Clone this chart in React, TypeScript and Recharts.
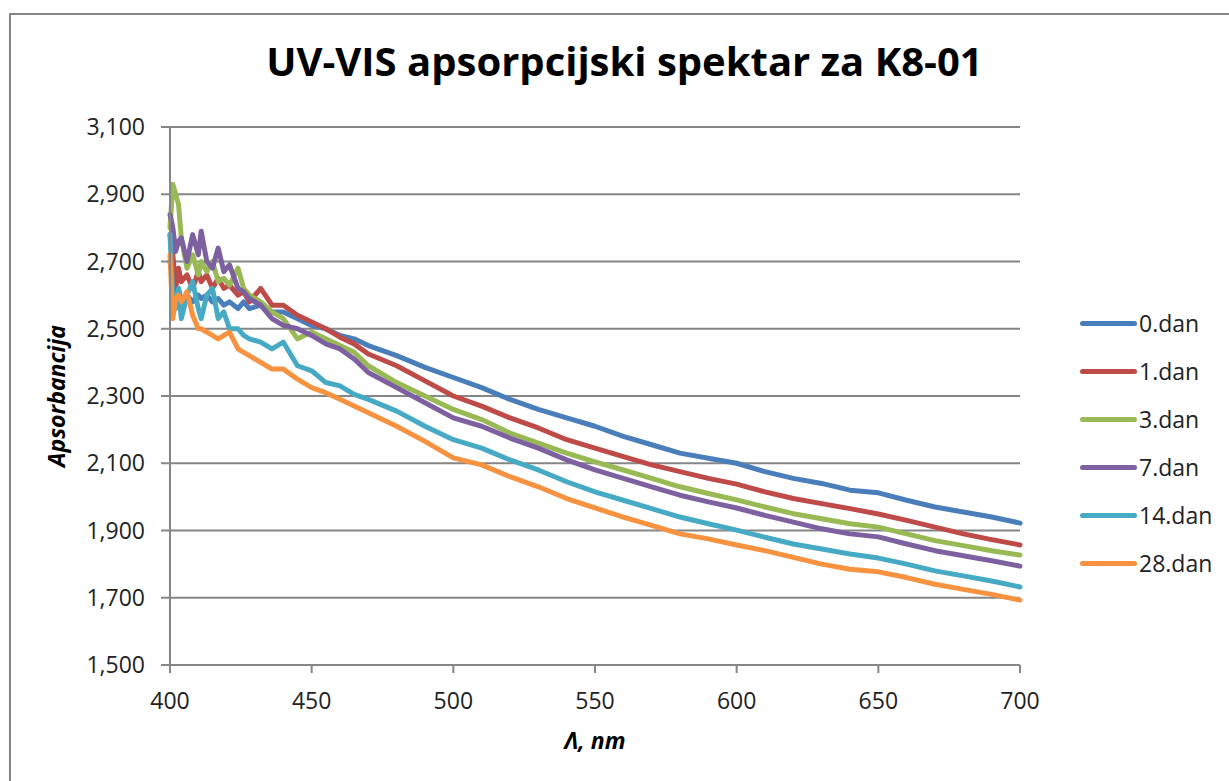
import { CartesianGrid, Legend, Line, LineChart, XAxis, YAxis, Label } from "recharts";

const wavelengths = [
    400, 401, 402, 403, 404, 406, 408, 410, 411, 413, 415, 417, 419, 421, 424, 426, 428, 432, 436, 440,
    445, 450, 455, 460, 465, 470, 480, 490, 500, 510, 520, 530, 540, 550, 560, 570, 580, 590, 600,
    610, 620, 630, 640, 650, 660, 670, 680, 690, 700,
];

const dan0 = [
    2.70, 2.65, 2.60, 2.62, 2.58, 2.60, 2.58, 2.60, 2.59, 2.60, 2.58, 2.59, 2.57, 2.58, 2.56, 2.58, 2.56, 2.57, 2.55, 2.55,
    2.53, 2.51, 2.50, 2.48, 2.47, 2.45, 2.42, 2.385, 2.355, 2.325, 2.29, 2.26, 2.235, 2.21, 2.18, 2.155, 2.13, 2.115, 2.10,
    2.075, 2.055, 2.04, 2.02, 2.012, 1.99, 1.97, 1.955, 1.94, 1.922,
];
const dan1 = [
    2.78, 2.72, 2.62, 2.68, 2.64, 2.66, 2.62, 2.67, 2.64, 2.66, 2.62, 2.65, 2.62, 2.63, 2.60, 2.61, 2.58, 2.62, 2.57, 2.57,
    2.54, 2.52, 2.50, 2.475, 2.455, 2.425, 2.39, 2.345, 2.30, 2.27, 2.235, 2.205, 2.17, 2.145, 2.12, 2.095, 2.075, 2.055, 2.038,
    2.015, 1.995, 1.98, 1.965, 1.949, 1.93, 1.91, 1.89, 1.873, 1.857,
];
const dan3 = [
    2.80, 2.93, 2.90, 2.87, 2.77, 2.68, 2.72, 2.66, 2.70, 2.67, 2.70, 2.64, 2.65, 2.63, 2.68, 2.62, 2.60, 2.58, 2.55, 2.53,
    2.47, 2.49, 2.47, 2.45, 2.43, 2.39, 2.34, 2.30, 2.26, 2.23, 2.19, 2.16, 2.13, 2.104, 2.08, 2.055, 2.03, 2.01, 1.991,
    1.97, 1.95, 1.935, 1.92, 1.91, 1.89, 1.87, 1.855, 1.84, 1.827,
];
const dan7 = [
    2.84, 2.80, 2.73, 2.76, 2.77, 2.70, 2.78, 2.72, 2.79, 2.70, 2.68, 2.74, 2.67, 2.69, 2.62, 2.61, 2.59, 2.57, 2.53, 2.51,
    2.50, 2.48, 2.455, 2.44, 2.41, 2.37, 2.325, 2.28, 2.235, 2.21, 2.175, 2.145, 2.11, 2.08, 2.055, 2.03, 2.005, 1.985, 1.967,
    1.945, 1.925, 1.905, 1.89, 1.881, 1.86, 1.84, 1.825, 1.81, 1.794,
];
const dan14 = [
    2.78, 2.60, 2.56, 2.62, 2.53, 2.60, 2.64, 2.56, 2.53, 2.60, 2.62, 2.53, 2.55, 2.50, 2.50, 2.48, 2.47, 2.46, 2.44, 2.46,
    2.39, 2.375, 2.34, 2.33, 2.305, 2.29, 2.255, 2.21, 2.17, 2.145, 2.11, 2.08, 2.045, 2.015, 1.99, 1.965, 1.94, 1.92, 1.901,
    1.88, 1.86, 1.845, 1.83, 1.818, 1.80, 1.78, 1.765, 1.75, 1.732,
];
const dan28 = [
    2.72, 2.53, 2.59, 2.60, 2.58, 2.61, 2.54, 2.50, 2.50, 2.49, 2.48, 2.47, 2.48, 2.49, 2.44, 2.43, 2.42, 2.40, 2.38, 2.38,
    2.35, 2.325, 2.31, 2.29, 2.27, 2.25, 2.21, 2.165, 2.116, 2.095, 2.06, 2.03, 1.995, 1.967, 1.94, 1.915, 1.89, 1.875, 1.857,
    1.84, 1.82, 1.80, 1.785, 1.777, 1.76, 1.74, 1.725, 1.71, 1.693,
];

const seriesNames = ["0.dan", "1.dan", "3.dan", "7.dan", "14.dan", "28.dan"];
const seriesValues = [dan0, dan1, dan3, dan7, dan14, dan28];
const seriesColors = ["#4A7EBB", "#BE4B48", "#98B954", "#7D60A0", "#46AAC5", "#F69240"];

const xTicks = [400, 450, 500, 550, 600, 650, 700];
const yTicks = [1.5, 1.7, 1.9, 2.1, 2.3, 2.5, 2.7, 2.9, 3.1];

const data = wavelengths.map((w, i) => {
    const row: Record<string, number> = { w };
    seriesNames.forEach((name, s) => {
        row[name] = seriesValues[s][i];
    });
    return row;
});

const FONT = "'Open Sans', sans-serif";
const GRAY = "#868686";

// legend keeps the series order (recharts would sort it by name)
const LegendBox = () => (
    <div>
        {seriesNames.map((name, s) => (
            <div key={name} style={{ display: "flex", alignItems: "center", height: 48 }}>
                <div style={{ width: 57, height: 5, borderRadius: 3, background: seriesColors[s] }} />
                <span style={{ fontFamily: FONT, fontSize: 23, color: "#222", marginLeft: 2 }}>{name}</span>
            </div>
        ))}
    </div>
);

const App = () => {
    return (
        <div style={{ position: "absolute", left: 0, top: 0, width: 1229, height: 781, overflow: "hidden", background: "#fff" }}>
            <div style={{ position: "absolute", left: 9, top: 13, width: 1250, height: 800, border: `2px solid ${GRAY}` }} />
            <div style={{ position: "absolute", left: 0, top: 33, width: 1249, textAlign: "center", fontFamily: FONT, fontWeight: 700, fontSize: 40, color: "#000" }}>
                UV-VIS apsorpcijski spektar za K8-01
            </div>
            <div style={{ position: "absolute", left: 0, top: 0 }}>
                <LineChart width={1229} height={781} data={data} margin={{ top: 127, right: 59, bottom: 0, left: 0 }}>
                    <CartesianGrid vertical={false} stroke={GRAY} strokeWidth={2} />
                    <XAxis
                        dataKey="w"
                        type="number"
                        domain={[400, 700]}
                        ticks={xTicks}
                        height={116}
                        stroke={GRAY}
                        strokeWidth={2}
                        tickSize={8}
                        tickMargin={20}
                        tick={{ fill: "#222", fontFamily: FONT, fontSize: 23 }}
                    >
                        <Label value="Λ, nm" position="insideTop" offset={68} style={{ fontFamily: FONT, fontSize: 23, fontWeight: 700, fontStyle: "italic", fill: "#000" }} />
                    </XAxis>
                    <YAxis
                        type="number"
                        domain={[1.5, 3.1]}
                        ticks={yTicks}
                        width={170}
                        stroke={GRAY}
                        strokeWidth={2}
                        tickSize={9}
                        tickMargin={16}
                        tickFormatter={(v: number) => v.toFixed(3).replace(".", ",")}
                        tick={{ fill: "#222", fontFamily: FONT, fontSize: 23 }}
                    >
                        <Label value="Apsorbancija" angle={-90} position="insideLeft" offset={57} style={{ fontFamily: FONT, fontSize: 23, fontWeight: 700, fontStyle: "italic", fill: "#000", textAnchor: "middle" }} />
                    </YAxis>
                    <Legend layout="vertical" align="right" verticalAlign="top" wrapperStyle={{ left: 1080, top: 299, width: 150 }} content={LegendBox} />
                    {seriesNames.map((name, s) => (
                        <Line
                            key={name}
                            type="linear"
                            dataKey={name}
                            stroke={seriesColors[s]}
                            strokeWidth={5}
                            strokeLinecap="round"
                            strokeLinejoin="round"
                            dot={false}
                            isAnimationActive={false}
                        />
                    ))}
                </LineChart>
            </div>
        </div>
    );
};

export default App;
